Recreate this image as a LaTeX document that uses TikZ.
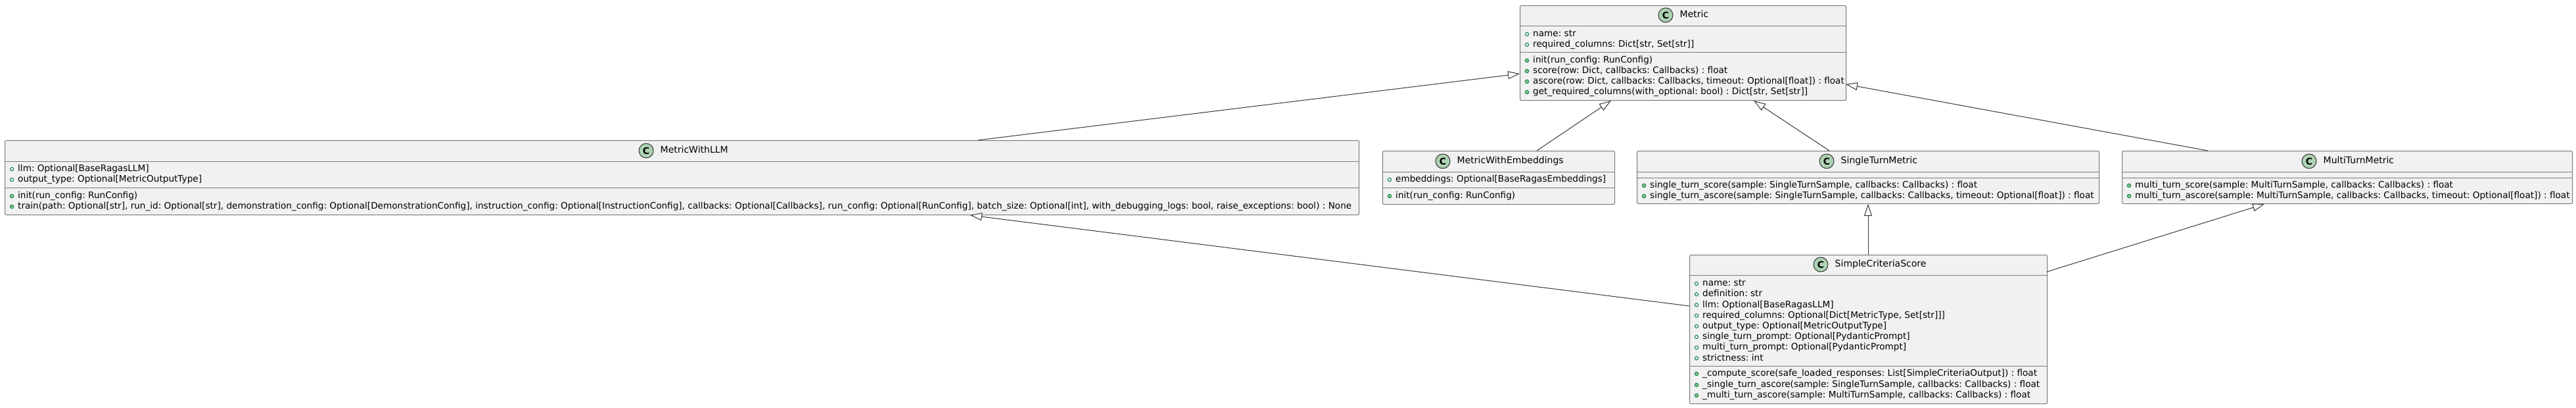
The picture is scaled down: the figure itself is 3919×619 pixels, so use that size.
\documentclass[tikz,border=0pt]{standalone}
\usepackage{fontspec}
\setmainfont{DejaVu Sans}
\usetikzlibrary{arrows.meta}
\definecolor{boxfill}{HTML}{F1F1F1}
\definecolor{boxline}{HTML}{7B7B7B}
\definecolor{edgeline}{HTML}{383838}
\definecolor{spotfill}{HTML}{ADD1B2}
\definecolor{fieldmark}{HTML}{038048}
\definecolor{methodmark}{HTML}{84BE84}
\tikzset{
  classbox/.style={draw=boxline,fill=boxfill,line width=1pt,rounded corners=2pt,inner sep=0pt,anchor=north west},
  divider/.style={draw=boxline,line width=1pt},
  inherit/.style={draw=edgeline,line width=1pt,-{Triangle[open,fill=white,length=18pt,width=12pt]}},
  classname/.style={anchor=west,inner sep=0pt,font=\fontsize{14}{14}\selectfont,text=black},
  member/.style={anchor=west,inner sep=0pt,font=\fontsize{13.6}{14}\selectfont\frenchspacing,text=black},
  spot/.style={draw=black!80,fill=spotfill,line width=1pt,circle,inner sep=0pt,minimum size=22pt},
}
% a field or a method row: mark, then text
\newcommand{\fieldrow}[4]{%
  \draw[draw=fieldmark,line width=1pt] (#1+11,#2) circle(2.6pt);
  \node[member] (#3) at (#1+20,#2) {\vphantom{Ag[}#4};
}
\newcommand{\methodrow}[4]{%
  \fill[fill=methodmark,draw=fieldmark,line width=.8pt] (#1+11,#2) circle(2.8pt);
  \node[member] (#3) at (#1+20,#2) {\vphantom{Ag[}#4};
}
% header of a class: spot with letter, then name
\newcommand{\classhead}[4]{%
  \node[spot] (#3spot) at (#1,#2) {\fontsize{14}{14}\selectfont\bfseries C};
  \node[classname] (#3name) at (#1+21.5,#2) {\vphantom{Ag}#4};
}
\begin{document}
\begin{tikzpicture}[x=1pt,y=-1pt]
  \useasboundingbox (0,0) rectangle (3919,619);
  % boxes
  \node[classbox,minimum width=496pt,minimum height=144pt] (metric) at (2312,8) {};
  \node[classbox,minimum width=2060pt,minimum height=113pt] (withllm) at (7,213) {};
  \node[classbox,minimum width=353pt,minimum height=81pt] (withemb) at (2103,229) {};
  \node[classbox,minimum width=703pt,minimum height=80pt] (singleturn) at (2490,229) {};
  \node[classbox,minimum width=685pt,minimum height=80pt] (multiturn) at (3228,229) {};
  \node[classbox,minimum width=544pt,minimum height=226pt] (simple) at (2570,387) {};
  % dividers
  \foreach \xa/\xb/\y in {2312/2808/39, 2312/2808/79,
    7/2067/245, 7/2067/285,
    2103/2456/261, 2103/2456/285,
    2490/3193/261, 2490/3193/270,
    3228/3913/261, 3228/3913/270,
    2570/3114/418, 2570/3114/556} {
      \draw[divider] (\xa,\y) -- (\xb,\y);
  }
  % headers
  \classhead{2534}{23}{metric}{Metric}
  \classhead{983}{229}{withllm}{MetricWithLLM}
  \classhead{2195}{245}{withemb}{MetricWithEmbeddings}
  \classhead{2779}{245}{singleturn}{SingleTurnMetric}
  \classhead{3513}{245}{multiturn}{MultiTurnMetric}
  \classhead{2770}{402}{simple}{SimpleCriteriaScore}
  % Metric
  \fieldrow{2312}{52}{ma}{name: str}
  \fieldrow{2312}{68}{mb}{required\_columns: Dict[str, Set[str]]}
  \methodrow{2312}{92}{mc}{init(run\_config: RunConfig)}
  \methodrow{2312}{108}{md}{score(row: Dict, callbacks: Callbacks) : float}
  \methodrow{2312}{124}{me}{ascore(row: Dict, callbacks: Callbacks, timeout: Optional[float]) : float}
  \methodrow{2312}{140}{mf}{get\_required\_columns(with\_optional: bool) : Dict[str, Set[str]]}
  % MetricWithLLM
  \fieldrow{7}{257}{la}{llm: Optional[BaseRagasLLM]}
  \fieldrow{7}{273}{lb}{output\_type: Optional[MetricOutputType]}
  \methodrow{7}{298}{lc}{init(run\_config: RunConfig)}
  \methodrow{7}{314}{ld}{train(path: Optional[str], run\_id: Optional[str], demonstration\_config: Optional[DemonstrationConfig], instruction\_config: Optional[InstructionConfig], callbacks: Optional[Callbacks], run\_config: Optional[RunConfig], batch\_size: Optional[int], with\_debugging\_logs: bool, raise\_exceptions: bool) : None}
  % MetricWithEmbeddings
  \fieldrow{2103}{273}{ea}{embeddings: Optional[BaseRagasEmbeddings]}
  \methodrow{2103}{298}{eb}{init(run\_config: RunConfig)}
  % SingleTurnMetric
  \methodrow{2490}{282}{sa}{single\_turn\_score(sample: SingleTurnSample, callbacks: Callbacks) : float}
  \methodrow{2490}{298}{sb}{single\_turn\_ascore(sample: SingleTurnSample, callbacks: Callbacks, timeout: Optional[float]) : float}
  % MultiTurnMetric
  \methodrow{3228}{282}{ta}{multi\_turn\_score(sample: MultiTurnSample, callbacks: Callbacks) : float}
  \methodrow{3228}{298}{tb}{multi\_turn\_ascore(sample: MultiTurnSample, callbacks: Callbacks, timeout: Optional[float]) : float}
  % SimpleCriteriaScore
  \foreach \n/\t [count=\i from 0] in {%
    name/name: str,
    definition/definition: str,
    llm/llm: Optional[BaseRagasLLM],
    columns/required\_columns: Optional[Dict[MetricType{,} Set[str]]],
    output/output\_type: Optional[MetricOutputType],
    sprompt/single\_turn\_prompt: Optional[PydanticPrompt],
    mprompt/multi\_turn\_prompt: Optional[PydanticPrompt],
    strict/strictness: int} {
      \fieldrow{2570}{431+16.2*\i}{\n}{\t}
  }
  \methodrow{2570}{568}{ca}{\_compute\_score(safe\_loaded\_responses: List[SimpleCriteriaOutput]) : float}
  \methodrow{2570}{585}{cb}{\_single\_turn\_ascore(sample: SingleTurnSample, callbacks: Callbacks) : float}
  \methodrow{2570}{601}{cc}{\_multi\_turn\_ascore(sample: MultiTurnSample, callbacks: Callbacks) : float}
  % inheritance
  \coordinate (llmtop) at (1488,213);
  \coordinate (metricleft) at (2312,112);
  \coordinate (embtop) at (2338,229);
  \coordinate (metricbl) at (2451,153);
  \coordinate (singletop) at (2783,229);
  \coordinate (metricbr) at (2668,153);
  \coordinate (multitop) at (3359,229);
  \coordinate (metricright) at (2808,128);
  \coordinate (simpletop) at (2842,387);
  \coordinate (singlebot) at (2842,310);
  \coordinate (simpleright) at (3114,413);
  \coordinate (multibot) at (3445,310);
  \coordinate (simpleleft) at (2570,465);
  \coordinate (llmbot) at (1476,327);
  \draw[inherit] (llmtop) -- (metricleft);
  \draw[inherit] (embtop) -- (metricbl);
  \draw[inherit] (singletop) -- (metricbr);
  \draw[inherit] (multitop) -- (metricright);
  \draw[inherit] (simpletop) -- (singlebot);
  \draw[inherit] (simpleright) -- (multibot);
  \draw[inherit] (simpleleft) -- (llmbot);
\end{tikzpicture}
\end{document}
